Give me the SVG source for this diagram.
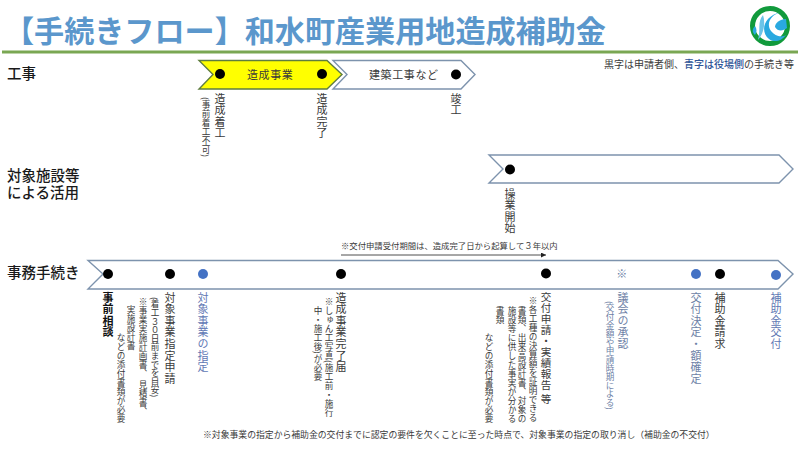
<svg xmlns="http://www.w3.org/2000/svg" width="800" height="451" viewBox="0 0 800 451">
<style>
text{font-family:"Noto Sans CJK JP","Noto Sans",sans-serif;fill:#3a3a3a;text-spacing-trim:space-all;text-autospace:no-autospace}
.v{writing-mode:vertical-rl;text-orientation:mixed}
.s11{font-size:11px;letter-spacing:.6px}.s9{font-size:8.6px;letter-spacing:.4px}
.blue{fill:#5f78b4}.gr{fill:#6d7fa6}.k{fill:#111}.b{font-weight:700}
.lab{font-size:14.5px;fill:#1a1a1a;font-weight:500}
.chev{fill:#fff;stroke:#7d93ad;stroke-width:1.4}
.dk{fill:#000}.db{fill:#4472c4}
</style>
<defs>
<marker id="arr" markerWidth="6" markerHeight="6" refX="5" refY="2.5" orient="auto" markerUnits="userSpaceOnUse"><path d="M0 0L5 2.5L0 5Z" fill="#222"/></marker>
</defs>
<rect width="800" height="451" fill="#fff"/>
<g id="header">
<text x="4" y="41.5" style="font-size:30.1px;font-weight:700;fill:#5b97cc">【手続きフロー】和水町産業用地造成補助金</text>
<rect x="2" y="50.5" width="796" height="3" fill="#7aa753"/>
<g id="logo">
<circle cx="770" cy="26" r="17.5" fill="#fff" stroke="#119a3c" stroke-width="5"/>
<path d="M781 12C770 15 766 24 771 31C775 36 781 38 786 35C782 41 774 43 769 39C760 32 763 16 781 12Z" fill="#29a9e0"/>
<path d="M786 19C780 19 775 23 775 27C778 32 783 31 787 28Z" fill="#29a9e0"/>
<path d="M763 15C757 22 761 30 758 40C763 35 766 24 763 15Z" fill="#6cc4e8"/>
<path d="M755 26C757 29 757 32 755 35C752 32 752 29 755 26Z" fill="#29a9e0"/>
</g>
<text x="604" y="68" style="font-size:10px">黒字は申請者側、<tspan style="fill:#2f5597;font-weight:500">青字は役場側</tspan>の手続き等</text>
</g>
<g id="labels">
<text class="lab" x="7" y="79">工事</text>
<text class="lab"><tspan x="7" y="181">対象施設等</tspan><tspan x="7" y="198">による活用</tspan></text>
<text class="lab" x="7" y="278">事務手続き</text>
</g>
<g id="connectors">
<line x1="341" y1="255" x2="546" y2="255" stroke="#222" stroke-width="0.8" marker-end="url(#arr)"/>
</g>
<g id="node-zosei">
<path d="M199 60.5H327L342 74.5L327 89H199L213 74.5Z" fill="#ffff00" stroke="#5f7d3f" stroke-width="1.4"/>
<text x="247" y="79" class="s11">造成事業</text>
<circle class="dk" cx="220" cy="74" r="5"/>
<circle class="dk" cx="322" cy="74" r="5"/>
<text class="v s11" x="220" y="93">造成着工</text>
<text class="v s9" x="206" y="97">(事前着工不可)</text>
<text class="v s11" x="322" y="93">造成完了</text>
</g>
<g id="node-kenchiku">
<path class="chev" d="M333 60.5H461L475 74.5L461 89H333L347 74.5Z"/>
<text x="369" y="79" class="s11">建築工事など</text>
<circle class="dk" cx="456" cy="74.5" r="5"/>
<text class="v s11" x="456" y="93">竣工</text>
</g>
<g id="node-katsuyo">
<path class="chev" d="M489 155H779L793 169L779 183H489L503 169Z"/>
<circle class="dk" cx="510" cy="169.5" r="5"/>
<text class="v s11" x="510" y="188">操業開始</text>
</g>
<g id="note-period">
<text x="341" y="249" style="font-size:8.35px">※交付申請受付期間は、造成完了日から起算して３年以内</text>
</g>
<g id="node-jimu">
<path class="chev" d="M88 260.5H778L793 274L778 289H88L103 274Z"/>
</g>
<g id="step-jizen"><circle class="dk" cx="108" cy="274" r="5"/>
<text class="v s11 b k" x="108" y="292">事前相談</text></g>
<g id="step-shinsei"><circle class="dk" cx="170" cy="274" r="5"/>
<text class="v s11" x="170" y="292">対象事業指定申請</text>
<text class="v" style="font-size:8.6px" x="155" y="297">(着工３０日前までを目安)</text>
<text class="v s9" x="143" y="297">※事業実施計画書、 見積書、</text>
<text class="v s9" x="131" y="305">実施設計書</text>
<text class="v s9" x="121" y="333">などの添付書類が必要</text></g>
<g id="step-shitei"><circle class="db" cx="203" cy="274" r="5"/>
<text class="v s11 blue" x="203" y="292">対象事業の指定</text></g>
<g id="step-kanryo"><circle class="dk" cx="341" cy="274" r="5"/>
<text class="v s11" x="341" y="292">造成事業完了届</text>
<text class="v s9" x="329" y="297">※しゅん工写真(施工前・施行</text>
<text class="v s9" x="318" y="306">中・施工後)が必要</text></g>
<g id="step-kofu-shinsei"><circle class="dk" cx="546" cy="273.5" r="5"/>
<text class="v" style="font-size:10.6px;letter-spacing:.4px" x="546" y="292">交付申請・実績報告 等</text>
<text class="v s9" x="533" y="296">※各工種の決算額を証明できる</text>
<text class="v s9" x="522" y="306">書類、出来高設計書、対象の</text>
<text class="v s9" x="512" y="306">施設等に供した事実が分かる</text>
<text class="v s9" x="500" y="306">書類</text>
<text class="v s9" x="489" y="333">などの添付書類が必要</text></g>
<g id="step-gikai">
<text x="622" y="278" text-anchor="middle" class="s11 gr">※</text>
<text class="v s11 gr" x="623" y="292">議会の承認</text>
<text class="v gr" style="font-size:8.6px" x="610" y="301">(交付金額や申請時期による)</text></g>
<g id="step-kettei"><circle class="db" cx="696" cy="274" r="5"/>
<text class="v s11 gr" x="696" y="292">交付決定・額確定</text></g>
<g id="step-seikyu"><circle class="dk" cx="720" cy="274" r="5"/>
<text class="v s11" x="720" y="292">補助金請求</text></g>
<g id="step-kofu"><circle class="db" cx="776" cy="275" r="5"/>
<text class="v s11 blue" x="776" y="292">補助金交付</text></g>
<g id="note-bottom">
<text x="203" y="438" style="font-size:8.84px">※対象事業の指定から補助金の交付までに認定の要件を欠くことに至った時点で、対象事業の指定の取り消し（補助金の不交付）</text>
</g>
</svg>
